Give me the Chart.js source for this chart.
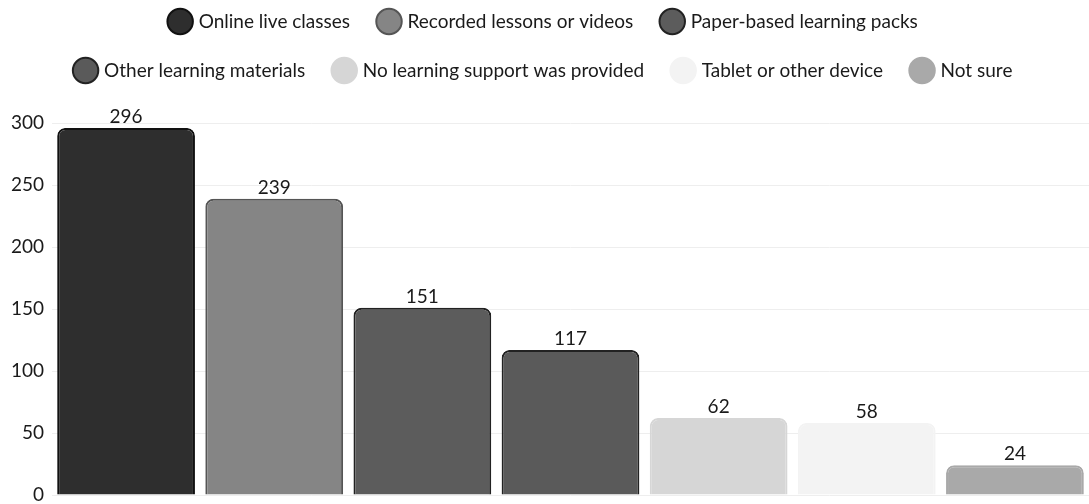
<!DOCTYPE html>
<html>
<head>
<meta charset="utf-8">
<script src="https://cdn.jsdelivr.net/npm/chart.js@4.4.1/dist/chart.umd.min.js"></script>
<style>
  html, body { margin: 0; padding: 0; background: #fff; }
  #wrap { width: 1089px; height: 504px; position: relative; }
</style>
</head>
<body>
<div id="wrap"><canvas id="c"></canvas></div>
<script>
const seriesNames = [
  'Online live classes',
  'Recorded lessons or videos',
  'Paper-based learning packs',
  'Other learning materials',
  'No learning support was provided',
  'Tablet or other device',
  'Not sure'
];
const seriesValues = [296, 239, 151, 117, 62, 58, 24];
const fillColors = ['#2e2e2e', '#858585', '#5c5c5c', '#5a5a5a', '#d6d6d6', '#f3f3f3', '#a9a9a9'];
const edgeColors = ['#111111', '#555555', '#222222', '#222222', '#d6d6d6', '#f3f3f3', '#a9a9a9'];
const yTicks = [0, 50, 100, 150, 200, 250, 300];

const datasets = seriesNames.map((name, i) => ({
  label: name,
  data: [seriesValues[i]],
  backgroundColor: fillColors[i],
  borderColor: edgeColors[i],
  borderWidth: 2,
  borderRadius: 8,
  barPercentage: 0.93,
  categoryPercentage: 1.0
}));

const valueLabels = {
  id: 'valueLabels',
  afterDatasetsDraw(chart) {
    const ctx = chart.ctx;
    ctx.save();
    ctx.font = '19px Lato';
    ctx.fillStyle = '#1a1a1a';
    ctx.textAlign = 'center';
    ctx.textBaseline = 'alphabetic';
    chart.data.datasets.forEach((ds, i) => {
      const meta = chart.getDatasetMeta(i);
      meta.data.forEach((el, j) => {
        ctx.fillText(String(ds.data[j]), el.x, el.y - 5);
      });
    });
    ctx.restore();
  }
};

const legendSpace = {
  id: 'legendSpace',
  beforeInit(chart) {
    const lg = chart.legend;
    const origFit = lg.fit;
    lg.fit = function () {
      this.maxWidth = Math.min(this.maxWidth, 1030);
      origFit.call(this);
      this.height = 123;
    };
  },
  afterLayout(chart) {
    const lg = chart.legend;
    lg.top -= 18;
    lg.bottom -= 18;
  }
};

new Chart(document.getElementById('c'), {
  type: 'bar',
  data: { labels: [''], datasets },
  plugins: [valueLabels, legendSpace],
  options: {
    responsive: true,
    maintainAspectRatio: false,
    animation: false,
    layout: { padding: { top: 0, right: 0, bottom: 9, left: 0 } },
    plugins: {
      legend: {
        position: 'top',
        labels: {
          usePointStyle: true,
          pointStyle: 'circle',
          boxWidth: 18,
          boxHeight: 18,
          padding: 30,
          color: '#1a1a1a',
          font: { family: 'Lato', size: 19 }
        }
      },
      tooltip: { enabled: false }
    },
    scales: {
      x: { display: false },
      y: {
        min: 0,
        max: 300,
        afterFit(s) { s.width = 52; s.paddingTop = 0; s.paddingBottom = 0; },
        afterBuildTicks(s) { s.ticks = yTicks.map(v => ({ value: v })); },
        border: { display: false },
        grid: { color: '#eeeeee', drawTicks: false },
        ticks: {
          padding: 8,
          color: '#1a1a1a',
          font: { family: 'Lato', size: 19 }
        }
      }
    }
  }
});
</script>
</body>
</html>
